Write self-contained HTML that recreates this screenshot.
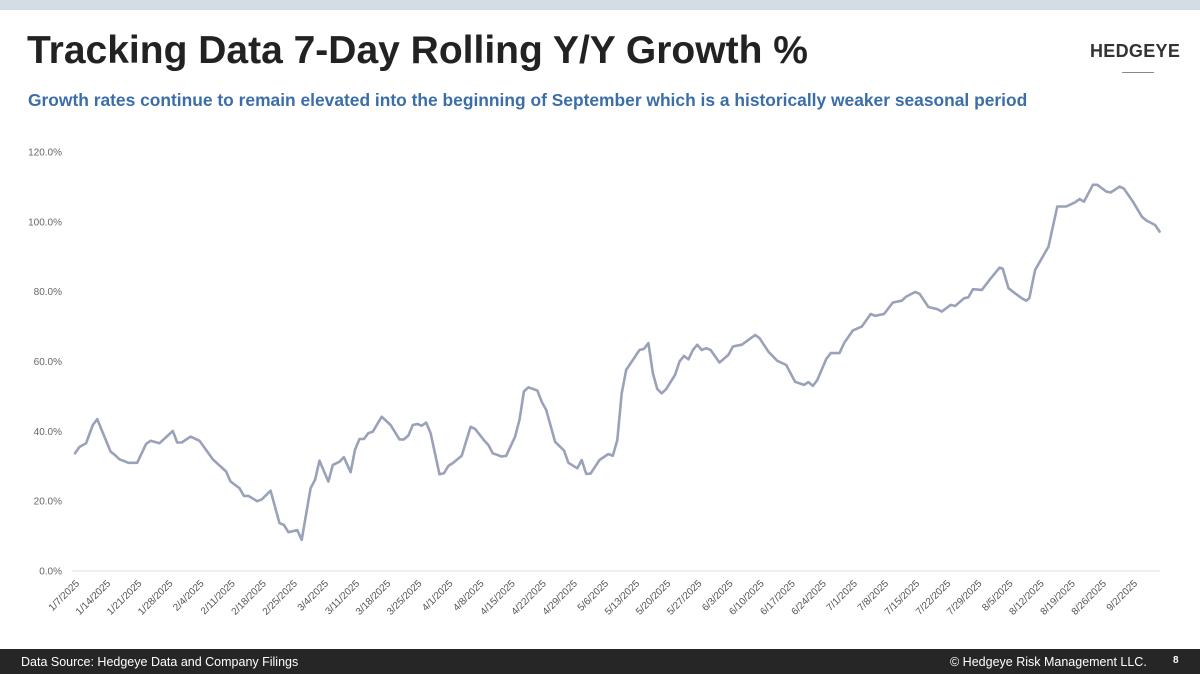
<!DOCTYPE html>
<html><head><meta charset="utf-8"><style>
body{margin:0;width:1200px;height:674px;overflow:hidden;background:#fff;font-family:"Liberation Sans",sans-serif;position:relative}
.top{position:absolute;left:0;top:0;width:1200px;height:10px;background:#d3dde6}
.title{position:absolute;left:27px;top:29px;font-size:39px;font-weight:bold;color:#222;letter-spacing:0px}
.sub{position:absolute;left:28px;top:90px;font-size:17.4px;font-weight:bold;color:#3b6ea8}
.logo{position:absolute;left:1090px;top:41px;font-size:18px;font-weight:bold;color:#333;letter-spacing:0.3px}
.logoline{position:absolute;left:1122px;top:72px;width:32px;height:1px;background:#889}
.foot{position:absolute;left:0;top:649px;width:1200px;height:25px;background:#262626;color:#fff;font-size:12.5px}
</style></head><body>
<div class="top"></div>
<div class="title">Tracking Data 7-Day Rolling Y/Y Growth %</div>
<div class="sub">Growth rates continue to remain elevated into the beginning of September which is a historically weaker seasonal period</div>
<div class="logo">HEDGEYE</div>
<div class="logoline"></div>
<svg id="chart" width="1200" height="674" style="position:absolute;left:0;top:0"></svg>
<div class="foot">
<span style="position:absolute;left:21px;top:6px">Data Source: Hedgeye Data and Company Filings</span>
<span style="position:absolute;left:950px;top:6px">© Hedgeye Risk Management LLC.</span>
<span style="position:absolute;left:1173px;top:6px;font-size:10px;font-weight:bold">8</span>
</div>
<script>
const dayOffsets=[0,1,2.5,4,5,8,9,10,12,14,16,17,19,22,23,24,26,28,31,34,35,37,38,39,41,42,44,46,47,48,50,51,53,54,55,57,58,59.5,60.5,62,63,64,65,66,67,69,71,73,74,75,76,77,78,79,80,82,83,84,85,87,89,90,92,93,94,96,97,99,100,101,102,104,105,106,108,110,111,113,114,115,116,118,120,121,122,123,124,126,127,128,129,130,131,132,133,135,136,137,138,139,140,141,142,143,145,147,148,150,151,153,154,156,158,160,162,164,165,166,167,169,170,172,173,175,177,179,180,182,184,186,187,189,190,192,194,195,197,198,200,201,202,204,206,208,208.7,210,211,213,214,214.7,216,219,221,223,225,226,227,229,230,232,233,235,236,238,240,241,243,244];
const values=[33.7,35.5,36.6,41.8,43.5,34.2,33.2,32,31,31,36.4,37.3,36.6,40.1,36.8,36.8,38.5,37.3,32,28.5,25.6,23.7,21.5,21.5,20,20.5,23,13.7,13.2,11.1,11.7,8.9,23.7,26.1,31.6,25.6,30.4,31.3,32.6,28.3,34.7,37.8,37.8,39.5,39.9,44.2,41.8,37.7,37.7,38.8,41.8,42.1,41.6,42.5,39.5,27.7,28,30.1,30.9,33,41.3,40.7,37.5,36.1,33.7,32.8,33,38.5,43.3,51.4,52.6,51.7,48.5,46.1,37,34.5,31,29.4,31.8,27.8,27.9,31.8,33.5,33,37.5,50.9,57.6,61.4,63.3,63.6,65.3,56.6,52.1,50.9,52.1,56.2,60,61.6,60.6,63.3,64.8,63.3,63.8,63.3,59.7,61.9,64.3,64.8,65.7,67.6,66.7,62.8,60.2,59,54.2,53.3,54.1,53,54.7,60.7,62.4,62.4,65.2,68.9,70,73.6,73.1,73.6,76.9,77.4,78.6,79.9,79.4,75.6,75,74.3,76.2,75.9,78.1,78.4,80.7,80.5,83.8,86.9,86.6,81,80,78.1,77.4,78.1,86.2,92.9,104.4,104.4,105.6,106.5,105.8,110.6,110.6,108.7,108.4,110.1,109.5,105.8,101.5,100.4,99.1,97.2];
const yTicks=[0,20,40,60,80,100,120];
const xLabels=["1/7/2025","1/14/2025","1/21/2025","1/28/2025","2/4/2025","2/11/2025","2/18/2025","2/25/2025","3/4/2025","3/11/2025","3/18/2025","3/25/2025","4/1/2025","4/8/2025","4/15/2025","4/22/2025","4/29/2025","5/6/2025","5/13/2025","5/20/2025","5/27/2025","6/3/2025","6/10/2025","6/17/2025","6/24/2025","7/1/2025","7/8/2025","7/15/2025","7/22/2025","7/29/2025","8/5/2025","8/12/2025","8/19/2025","8/26/2025","9/2/2025"];
const NS="http://www.w3.org/2000/svg";
const svg=document.getElementById('chart');
const xs=d=>75+d*4.445;
const ys=v=>571-v*(419/120);
function mk(t,a){const e=document.createElementNS(NS,t);for(const k in a)e.setAttribute(k,a[k]);svg.appendChild(e);return e;}
const base=mk('line',{x1:72,x2:1160,y1:ys(0),y2:ys(0),stroke:'#dde1e6','stroke-width':1});


yTicks.forEach(v=>{const t=mk('text',{x:62,y:ys(v)+3.5,'text-anchor':'end','font-size':10,fill:'#666','font-family':'Liberation Sans, sans-serif'});t.textContent=v.toFixed(1)+'%';

});
xLabels.forEach((l,i)=>{const x=xs(i*7)+5;const t=mk('text',{x:x,y:584,'text-anchor':'end','font-size':10,fill:'#555','font-family':'Liberation Sans, sans-serif',transform:`rotate(-45 ${x} 584)`});t.textContent=l;

});
const pts=dayOffsets.map((d,i)=>xs(d).toFixed(1)+','+ys(values[i]).toFixed(1)).join(' ');
const pl=mk('polyline',{points:pts,fill:'none',stroke:'#99a2b9','stroke-width':2.6,'stroke-linejoin':'round','stroke-linecap':'round'});


</script>
</body></html>
